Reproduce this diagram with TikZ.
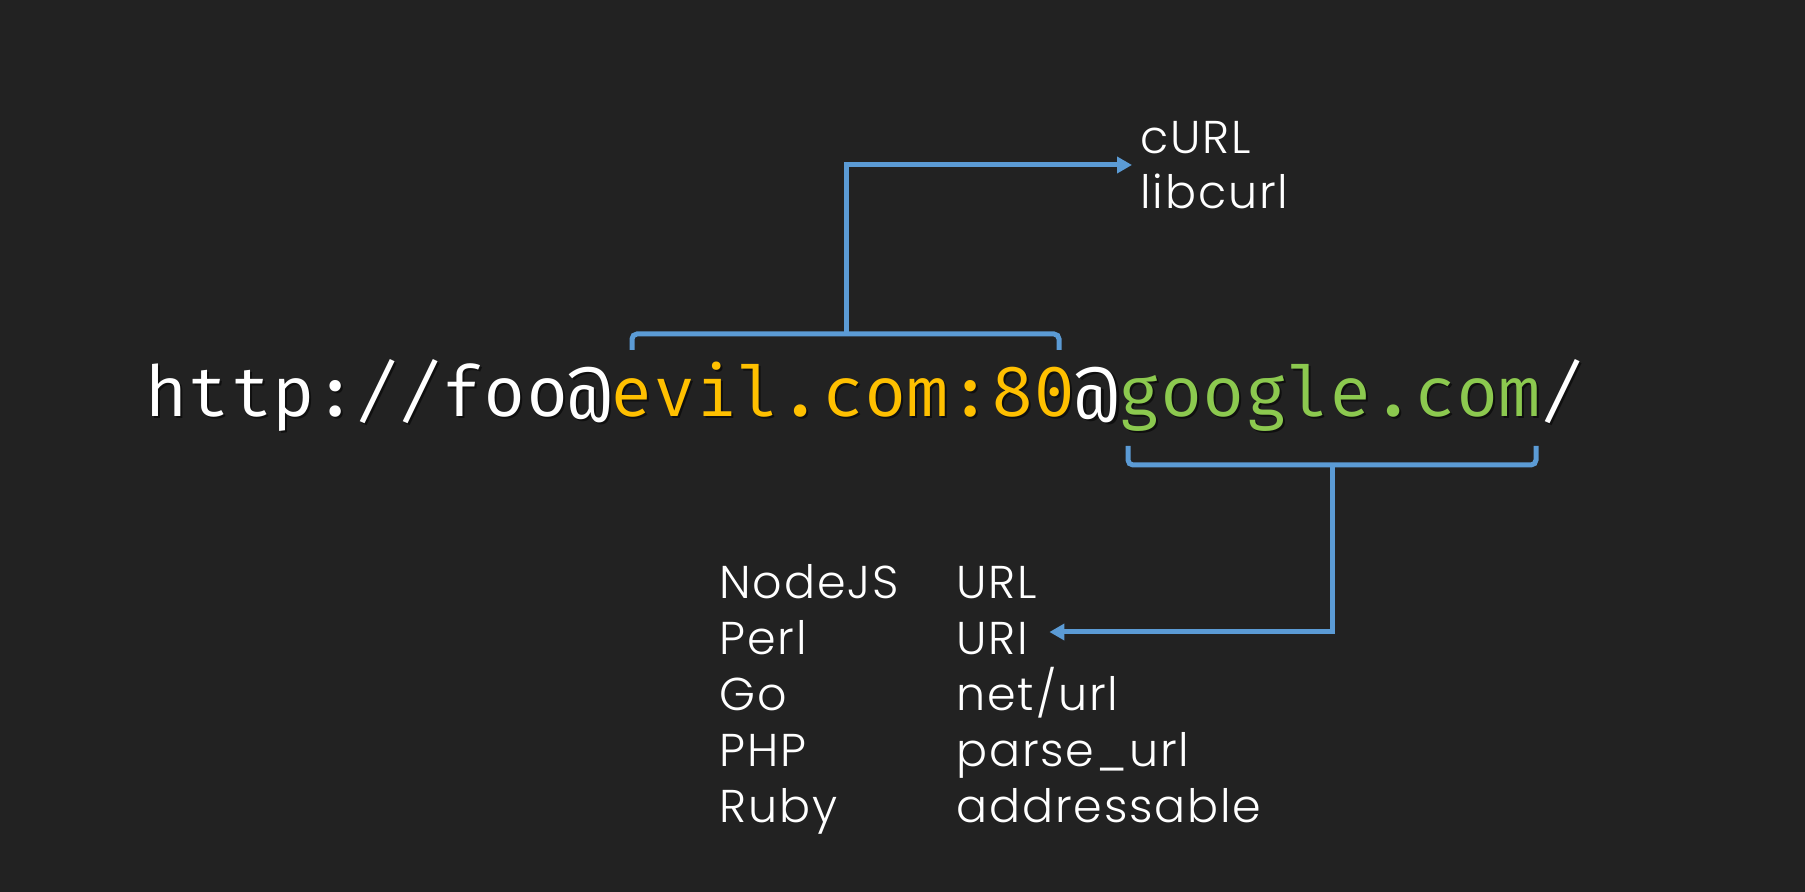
\documentclass[tikz,border=0pt]{standalone}
\usepackage{fontspec}
\usetikzlibrary{arrows.meta}
\newfontfamily\urlfont{Fira Mono}
\newfontfamily\labfont{Poppins}[UprightFont=* Light, LetterSpace=4]
\definecolor{bg}{HTML}{222222}
\definecolor{lineblue}{HTML}{5B9BD5}
\definecolor{evilc}{HTML}{FFC000}
\definecolor{googc}{HTML}{8CC94F}
\begin{document}
\begin{tikzpicture}[x=0.5pt,y=-0.5pt,
  conn/.style={draw=lineblue, line width=2.5pt},
  bracestyle/.style={conn, rounded corners=2.5pt},
  arr/.style={conn, -{Triangle[length=7.5pt,width=8pt]}},
  urltext/.style={font=\urlfont\fontsize{35.25pt}{40pt}\selectfont, inner sep=0pt, anchor=base west},
  lab/.style={text=white, font=\labfont\fontsize{23pt}{27.5pt}\selectfont, inner sep=0pt, anchor=base west},
]
\fill[bg] (0,0) rectangle (1805,892);
\useasboundingbox (0,0) rectangle (1805,892);
% URL with subtle shadow
\node[urltext, text=black, opacity=0.55] (urlshadow) at (147,419) {http://foo@evil.com:80@google.com/};
\node[urltext, text=white] (url) at (145,417) {http://foo@\textcolor{evilc}{evil.com:80}@\textcolor{googc}{google.com}/};
% labels
\node[lab, anchor=west, align=left] (curl) at (1140,165) {cURL\\libcurl};
\node[lab] (n1) at (719,599) {NodeJS};
\node[lab] (n2) at (719,654) {Perl};
\node[lab] (n3) at (719,711) {Go};
\node[lab] (n4) at (719,766) {PHP};
\node[lab] (n5) at (719,822) {Ruby};
\node[lab] (l1) at (956,599) {URL};
\node[lab] (uri) at (956,654) {URI};
\node[lab] (l3) at (956,711) {net/url};
\node[lab] (l4) at (956,766) {parse\_url};
\node[lab] (l5) at (956,822) {addressable};
% top bracket
\coordinate (tmid) at (846,334);
\coordinate (tturn) at (846,165);
\draw[bracestyle] (632,350) -- (632,334) -- (1059,334) -- (1059,350);
\draw[arr] (tmid) -- (tturn) -- ([xshift=-4pt]curl.west |- tturn);
% bottom bracket
\coordinate (bmid) at (1332,465);
\coordinate (bturn) at (1332,632);
\draw[bracestyle] (1128,446) -- (1128,465) -- (1536,465) -- (1536,446);
\draw[arr] (bmid) -- (bturn) -- ([xshift=10.5pt]uri.east |- bturn);
\end{tikzpicture}
\end{document}
